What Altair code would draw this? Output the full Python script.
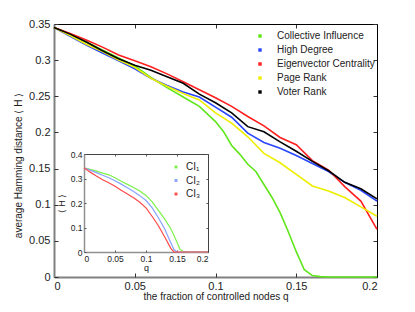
import altair as alt
import pandas as pd

# ---------------- data ----------------
methods = ["Collective Influence", "High Degree", "Eigenvector Centrality", "Page Rank", "Voter Rank"]
colors = ["#5fe61a", "#2846ff", "#ff1f1f", "#eeee00", "#000000"]

q_grid = [0.0, 0.01, 0.02, 0.03, 0.04, 0.05, 0.06, 0.07, 0.08, 0.09, 0.10,
          0.11, 0.12, 0.13, 0.14, 0.15, 0.16, 0.17, 0.18, 0.19, 0.20]
high_degree = [0.345, 0.333, 0.321, 0.310, 0.299, 0.288, 0.275, 0.265, 0.256, 0.249, 0.235,
               0.221, 0.199, 0.186, 0.178, 0.168, 0.157, 0.146, 0.131, 0.120, 0.105]
eigenvector = [0.345, 0.337, 0.328, 0.318, 0.307, 0.299, 0.291, 0.281, 0.270, 0.259, 0.248,
               0.236, 0.222, 0.209, 0.193, 0.183, 0.161, 0.148, 0.125, 0.105, 0.066]
page_rank = [0.345, 0.334, 0.322, 0.312, 0.300, 0.290, 0.275, 0.264, 0.254, 0.245, 0.227,
             0.213, 0.194, 0.171, 0.158, 0.142, 0.126, 0.119, 0.110, 0.097, 0.084]
voter_rank = [0.345, 0.336, 0.325, 0.313, 0.302, 0.293, 0.286, 0.277, 0.268, 0.253, 0.241,
              0.227, 0.208, 0.201, 0.187, 0.174, 0.160, 0.147, 0.131, 0.122, 0.108]

q_ci = [0.0, 0.01, 0.02, 0.03, 0.04, 0.05, 0.06, 0.07, 0.08, 0.09, 0.10, 0.105, 0.11,
        0.115, 0.12, 0.125, 0.13, 0.135, 0.14, 0.145, 0.15, 0.155, 0.16, 0.165, 0.17,
        0.18, 0.19, 0.20]
collective_influence = [0.345, 0.336, 0.325, 0.314, 0.303, 0.292, 0.276, 0.262, 0.249, 0.236,
                        0.215, 0.201, 0.182, 0.170, 0.156, 0.146, 0.128, 0.110, 0.089, 0.063,
                        0.035, 0.010, 0.002, 0.0005, 0.0, 0.0, 0.0, 0.0]

# inset
inset_names = ["CI\u2081", "CI\u2082", "CI\u2083"]
inset_colors = ["#7df04a", "#8aa2ff", "#ff4a4a"]
q_inset = [0.0, 0.01, 0.02, 0.03, 0.04, 0.05, 0.06, 0.07, 0.08, 0.09, 0.10, 0.11, 0.12,
           0.13, 0.14, 0.145, 0.15, 0.155, 0.16, 0.17, 0.18, 0.19, 0.20]
ci1 = [0.344, 0.337, 0.330, 0.322, 0.315, 0.303, 0.289, 0.276, 0.263, 0.249, 0.231, 0.205,
       0.170, 0.135, 0.095, 0.068, 0.040, 0.010, 0.003, 0.0, 0.0, 0.0, 0.0]
ci2 = [0.344, 0.334, 0.324, 0.313, 0.303, 0.291, 0.277, 0.262, 0.247, 0.230, 0.210, 0.180,
       0.140, 0.095, 0.038, 0.010, 0.0, 0.0, 0.0, 0.0, 0.0, 0.0, 0.0]
ci3 = [0.344, 0.326, 0.310, 0.295, 0.283, 0.268, 0.252, 0.237, 0.221, 0.203, 0.180, 0.145,
       0.107, 0.062, 0.015, 0.0, 0.0, 0.0, 0.0, 0.0, 0.0, 0.0, 0.0]

x_ticks = [0, 0.05, 0.1, 0.15, 0.2]
y_ticks = [0, 0.05, 0.1, 0.15, 0.2, 0.25, 0.3, 0.35]
inset_y_ticks = [0, 0.1, 0.2, 0.3, 0.4]

# ---------------- tables ----------------
rows = []
for q, v in zip(q_ci, collective_influence):
    rows.append({"q": q, "H": v, "method": methods[0]})
for name, series in zip(methods[1:], [high_degree, eigenvector, page_rank, voter_rank]):
    for q, v in zip(q_grid, series):
        rows.append({"q": q, "H": v, "method": name})
main_df = pd.DataFrame(rows)

irows = []
for name, series in zip(inset_names, [ci1, ci2, ci3]):
    for q, v in zip(q_inset, series):
        irows.append({"q": q, "H": v, "ci": name})
inset_df = pd.DataFrame(irows)

# ---------------- layout ----------------
W, Hh = 323, 253
FONT = "Liberation Sans"
IX0, IX1 = 30, 154      # inset x range (plot coords)
IYB, IYT = 228, 130     # inset y range (bottom, top)

def xs():
    return alt.Scale(domain=[0, 0.2], nice=False, zero=False)

def ys():
    return alt.Scale(domain=[0, 0.35], nice=False)

def ixs():
    return alt.Scale(domain=[0, 0.2], nice=False, zero=False, range=[IX0, IX1])

def iys():
    return alt.Scale(domain=[0, 0.4], nice=False, range=[IYB, IYT])

lines = alt.Chart(main_df).mark_line(strokeWidth=1.6).encode(
    x=alt.X("q:Q", scale=xs(), axis=alt.Axis(
        orient="bottom", values=x_ticks, format="~g", tickSize=0, labelPadding=3,
        labelFont=FONT, labelFontSize=11, labelColor="#222",
        title="the fraction of controlled nodes q", titleFont=FONT, titleFontSize=10,
        titleFontWeight="normal", titleColor="#222", titlePadding=0,
        domainColor="#808080", domainWidth=2, grid=False)),
    y=alt.Y("H:Q", scale=ys(), axis=alt.Axis(
        orient="left", values=y_ticks, format="~g", tickSize=0, labelPadding=4,
        labelFont=FONT, labelFontSize=11, labelColor="#222",
        title="average Hamming distance \u27e8 H \u27e9", titleFont=FONT, titleFontSize=10,
        titleFontWeight="normal", titleColor="#222", titlePadding=5, titleY=141,
        domainColor="#808080", domainWidth=2, grid=False)),
    color=alt.Color("method:N", scale=alt.Scale(domain=methods, range=colors), legend=alt.Legend(
        orient="none", legendX=201, legendY=7, title=None, symbolType="square",
        symbolSize=2, symbolStrokeWidth=2, labelFont=FONT, labelFontSize=10,
        labelColor="#222", labelOffset=12, rowPadding=4, padding=0)),
    order=alt.Order("q:Q"),
)

# inward ticks on bottom / left of main plot
ghost_bl = alt.Chart(main_df).mark_point(opacity=0).encode(
    x=alt.X("q:Q", scale=xs(), axis=alt.Axis(
        orient="top", offset=-Hh, values=x_ticks, labels=False, domain=False,
        tickSize=4, tickColor="#333", title=None, grid=False)),
    y=alt.Y("H:Q", scale=ys(), axis=alt.Axis(
        orient="right", offset=-W, values=y_ticks, labels=False, domain=False,
        tickSize=4, tickColor="#333", title=None, grid=False)),
)

# top / right border with inward ticks
ghost_tr = alt.Chart(main_df).mark_point(opacity=0).encode(
    x=alt.X("q:Q", scale=xs(), axis=alt.Axis(
        orient="bottom", offset=-Hh, values=x_ticks, labels=False, domain=True,
        domainColor="#000", domainWidth=1, tickSize=4, tickColor="#333", title=None, grid=False)),
    y=alt.Y("H:Q", scale=ys(), axis=alt.Axis(
        orient="left", offset=-W, values=y_ticks, labels=False, domain=True,
        domainColor="#000", domainWidth=1, tickSize=4, tickColor="#333", title=None, grid=False)),
)

# inset
inset_lines = alt.Chart(inset_df).mark_line(strokeWidth=1.2).encode(
    x=alt.X("q:Q", scale=ixs(), axis=alt.Axis(
        orient="bottom", offset=IYB - Hh, values=x_ticks, format="~g", tickSize=0,
        labelPadding=2, labelFont=FONT, labelFontSize=8.5, labelColor="#222",
        title="q", titleFont=FONT, titleFontSize=9, titleFontWeight="normal",
        titleColor="#222", titlePadding=1, domainColor="#909090", domainWidth=1.5, grid=False)),
    y=alt.Y("H:Q", scale=iys(), axis=alt.Axis(
        orient="left", offset=-IX0, values=inset_y_ticks, format="~g", tickSize=0,
        labelPadding=2, labelFont=FONT, labelFontSize=8.5, labelColor="#222",
        title="\u27e8 H \u27e9", titleFont=FONT, titleFontSize=9, titleFontWeight="normal",
        titleColor="#222", titlePadding=4, domainColor="#909090", domainWidth=1.5, grid=False)),
    color=alt.Color("ci:N", scale=alt.Scale(domain=inset_names, range=inset_colors), legend=alt.Legend(
        orient="none", legendX=117, legendY=138, title=None, symbolType="square",
        symbolSize=2, symbolStrokeWidth=1.5, labelFont=FONT, labelFontSize=10,
        labelColor="#222", labelOffset=5, rowPadding=3.5, padding=0)),
    order=alt.Order("q:Q"),
)

inset_ghost_bl = alt.Chart(inset_df).mark_point(opacity=0).encode(
    x=alt.X("q:Q", scale=ixs(), axis=alt.Axis(
        orient="top", offset=-IYB, values=x_ticks, labels=False, domain=False,
        tickSize=2, tickColor="#555", title=None, grid=False)),
    y=alt.Y("H:Q", scale=iys(), axis=alt.Axis(
        orient="right", offset=IX0 - W, values=inset_y_ticks, labels=False, domain=False,
        tickSize=2, tickColor="#555", title=None, grid=False)),
)

inset_ghost_tr = alt.Chart(inset_df).mark_point(opacity=0).encode(
    x=alt.X("q:Q", scale=ixs(), axis=alt.Axis(
        orient="bottom", offset=IYT - Hh, values=x_ticks, labels=False, domain=True,
        domainColor="#444", domainWidth=1, tickSize=2, tickColor="#555", title=None, grid=False)),
    y=alt.Y("H:Q", scale=iys(), axis=alt.Axis(
        orient="left", offset=-IX1, values=inset_y_ticks, labels=False, domain=True,
        domainColor="#444", domainWidth=1, tickSize=2, tickColor="#555", title=None, grid=False)),
)

chart = alt.layer(
    lines, ghost_bl, ghost_tr, inset_lines, inset_ghost_bl, inset_ghost_tr
).resolve_scale(
    x="independent", y="independent", color="independent"
).resolve_axis(
    x="independent", y="independent"
).resolve_legend(
    color="independent"
).properties(
    width=W, height=Hh,
    autosize=alt.AutoSizeParams(type="none"),
    padding={"left": 46, "top": 16, "right": 20, "bottom": 26},
    background="white",
).configure_view(strokeWidth=0)

chart.save("out.html", embed_options={"renderer": "svg", "actions": False})
